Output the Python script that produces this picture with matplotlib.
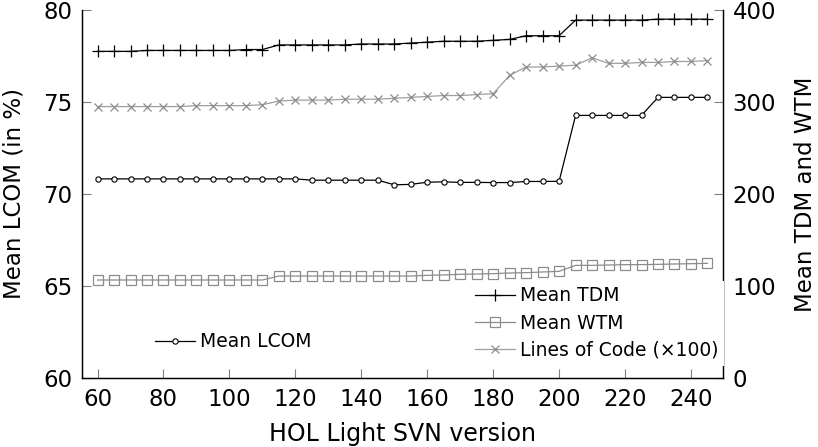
import matplotlib
matplotlib.use("Agg")
import matplotlib.pyplot as plt

versions = [60, 65, 70, 75, 80, 85, 90, 95, 100, 105, 110, 115, 120, 125, 130,
            135, 140, 145, 150, 155, 160, 165, 170, 175, 180, 185, 190, 195,
            200, 205, 210, 215, 220, 225, 230, 235, 240, 245]

mean_lcom = [70.82, 70.82, 70.82, 70.82, 70.82, 70.82, 70.82, 70.82, 70.82,
             70.82, 70.82, 70.82, 70.82, 70.75, 70.75, 70.75, 70.75, 70.75,
             70.50, 70.52, 70.64, 70.66, 70.63, 70.63, 70.62, 70.62, 70.68,
             70.68, 70.69, 74.27, 74.27, 74.27, 74.27, 74.27, 75.25, 75.25,
             75.25, 75.25]

mean_tdm = [355, 355, 355, 356, 356, 356, 356, 356, 356, 357, 357, 362, 362,
            362, 362, 362, 363, 363, 363, 364, 365, 366, 366, 366, 367, 368,
            372, 372, 372, 389, 389, 389, 389, 389, 390, 390, 390, 390]

mean_wtm = [106.5, 106.5, 106.5, 106.5, 106.5, 106.5, 106.5, 106.5, 106.5,
            106.5, 106.5, 110.8, 110.8, 110.8, 110.8, 110.8, 110.8, 110.8,
            110.8, 110.8, 111.6, 112.0, 112.7, 113.0, 113.4, 114.1, 114.5,
            115.2, 115.9, 122.4, 122.4, 122.8, 123.2, 123.2, 123.5, 123.9,
            124.2, 124.6]

loc_100 = [295, 295, 295, 295, 295, 295, 296, 296, 296, 296, 297, 301, 302,
           302, 302, 303, 303, 303, 304, 305, 306, 307, 307, 308, 309, 329,
           338, 338, 339, 340, 348, 342, 342, 343, 343, 344, 344, 345]

lcom_ticks = [60, 65, 70, 75, 80]
right_ticks = [0, 100, 200, 300, 400]
x_ticks = [60, 80, 100, 120, 140, 160, 180, 200, 220, 240]

FS = 16.5
LFS = 13.5

fig = plt.figure(figsize=(8.18, 4.47), dpi=100)
ax1 = fig.add_axes([0.1006, 0.1544, 0.7829, 0.8233])
ax2 = ax1.twinx()

l_lcom, = ax1.plot(versions, mean_lcom, color='black', lw=0.9, marker='o',
                   ms=3.8, mfc='white', mec='black', mew=0.8,
                   label='Mean LCOM')
l_tdm, = ax2.plot(versions, mean_tdm, color='black', lw=0.9, marker='+',
                  ms=8, mew=0.9, label='Mean TDM')
l_wtm, = ax2.plot(versions, mean_wtm, color='0.55', lw=0.9, marker='s',
                  ms=7.5, mfc='none', mec='0.55', mew=0.9, label='Mean WTM')
l_loc, = ax2.plot(versions, loc_100, color='0.62', lw=0.9, marker='x',
                  ms=5.5, mec='0.55', mew=0.9, label='Lines of Code (×100)')

ax1.set_xlim(55.375, 249.625)
ax1.set_ylim(60, 80)
ax2.set_ylim(0, 400)
ax1.set_xticks(x_ticks)
ax1.set_yticks(lcom_ticks)
ax2.set_yticks(right_ticks)

for ax in (ax1, ax2):
    ax.spines['top'].set_visible(False)
    for s in ax.spines.values():
        s.set_linewidth(0.9)
ax1.tick_params(axis='both', direction='in', length=6.5, width=0.8,
                color='0.5', labelsize=FS, pad=7, right=False, top=False)
ax2.tick_params(axis='y', direction='in', length=6.5, width=0.8,
                color='0.5', labelsize=FS, pad=7, left=False)

ax1.set_xlabel('HOL Light SVN version', fontsize=17, labelpad=8)
ax1.set_ylabel('Mean LCOM (in %)', fontsize=FS, labelpad=13)
ax2.set_ylabel('Mean TDM and WTM', fontsize=FS, labelpad=13)

fs_px = LFS * 100 / 72.0
bp = 0.3
leg1 = ax2.legend([l_lcom], ['Mean LCOM'], loc='center left',
                  bbox_to_anchor=((155 - bp * fs_px) / 818, 1 - 341.7 / 447),
                  bbox_transform=fig.transFigure, fontsize=LFS, frameon=False,
                  borderpad=bp, borderaxespad=0, handlelength=2.15,
                  handletextpad=0.25, numpoints=1)
ax2.add_artist(leg1)
leg2 = ax2.legend([l_tdm, l_wtm, l_loc],
                  ['Mean TDM', 'Mean WTM', 'Lines of Code (×100)'],
                  loc='upper left',
                  bbox_to_anchor=((475 - bp * fs_px) / 818, 1 - 280.5 / 447),
                  bbox_transform=fig.transFigure, fontsize=LFS, frameon=True,
                  fancybox=False, framealpha=1, edgecolor='none',
                  borderpad=bp, borderaxespad=0, handlelength=2.15,
                  handletextpad=0.25, labelspacing=0.45, numpoints=1)
leg2.get_frame().set_linewidth(0)

fig.savefig('out.png', dpi=100)
